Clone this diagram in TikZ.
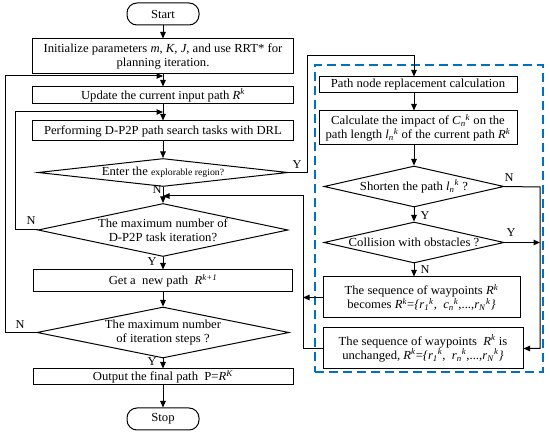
\documentclass[tikz,border=0pt]{standalone}
\usepackage{fontspec}
\setmainfont{Liberation Serif}[FakeStretch=1.03]
\usetikzlibrary{shapes.geometric,arrows.meta,calc}
\newcommand{\Ital}[1]{\textit{#1}}
\newcommand{\Sup}[2]{\textit{#1}\textsuperscript{\textit{#2}}}
\newcommand{\SubSup}[3]{\textit{#1}\textsubscript{\textit{#2}}\textsuperscript{\textit{#3}}}
\definecolor{frameblue}{RGB}{0,112,192}
\begin{document}
\begin{tikzpicture}[x=1pt,y=-1pt,
  font=\fontsize{12.3}{14}\selectfont,
  box/.style={draw, line width=1pt, rectangle, align=center, inner sep=1pt},
  dia/.style={draw, line width=1pt, diamond, inner sep=0pt},
  term/.style={draw, line width=1pt, rectangle, rounded corners=10pt, minimum width=72pt, minimum height=22pt},
  arr/.style={line width=1pt, -{Triangle[length=6.5pt,width=5.5pt]}},
  lin/.style={line width=1pt},
  lab/.style={inner sep=0pt, font=\fontsize{12}{13}\selectfont},
  grp/.style={draw=frameblue, line width=1.5pt, dash pattern=on 9pt off 5pt, rectangle}]
\useasboundingbox (0,0) rectangle (550,433);
% group frame
\node[grp, minimum width=228pt, minimum height=307pt] (frame) at (429,218.5) {};
% left column
\node[term] (start) at (163,14) {Start};
\node[box, minimum width=261pt, minimum height=35pt] (init) at (163,56.5) {Initialize parameters \Ital{m}, \Ital{K}, \Ital{J}, and use RRT* for\\planning iteration.};
\node[box, minimum width=261pt, minimum height=17pt] (upd) at (163,95.5) {Update the current input path \Sup{R}{k}};
\node[box, minimum width=261pt, minimum height=20pt] (perf) at (163,131) {Performing D-P2P path search tasks with DRL};
\node[dia, minimum width=250pt, minimum height=28pt] (ent) at (163,172.5) {};
\node[inner sep=0pt] (entT) at (ent) {Enter the {\fontsize{9.5}{11}\selectfont explorable region?}};
\node[dia, minimum width=250pt, minimum height=53pt] (mx) at (163,230) {};
\node[align=center, inner sep=0pt] (mxT) at (mx) {The maximum number of\\D-P2P task iteration?};
\node[box, minimum width=259pt, minimum height=22pt] (newp) at (163,281) {Get a\ \ new path\ \ \Sup{R}{k+1}};
\node[dia, minimum width=252pt, minimum height=51pt] (it) at (163,332.5) {};
\node[align=center, inner sep=0pt] (itT) at (it) {The maximum number\\of iteration steps ?};
\node[box, minimum width=260pt, minimum height=16pt] (out) at (163,377) {Output the final path\ \ P=\Sup{R}{K}};
\node[term] (stop) at (163,419) {Stop};
% right column
\node[box, minimum width=198pt, minimum height=16pt] (pn) at (418,85) {Path node replacement calculation};
\node[box, minimum width=198pt, minimum height=34pt] (calc) at (418,128) {Calculate the impact of \SubSup{C}{n}{k} on the\\path length \SubSup{l}{n}{k} of the current path \Sup{R}{k}};
\node[dia, minimum width=180pt, minimum height=41pt] (sh) at (414,186.5) {};
\node[inner sep=0pt] (shT) at (sh) {Shorten the path \SubSup{l}{n}{k} ?};
\node[dia, minimum width=180pt, minimum height=41pt] (col) at (414,242.5) {};
\node[inner sep=0pt] (colT) at (col) {Collision with obstacles ?};
\node[box, minimum width=197pt, minimum height=41pt] (seq) at (421.5,297.5) {The sequence of waypoints \Sup{R}{k}\\becomes \Sup{R}{k}=\Ital{\{}\SubSup{r}{1}{k},\ \ \SubSup{c}{n}{k},...,\SubSup{r}{N}{k}\Ital{\}}};
\node[box, minimum width=200pt, minimum height=41pt] (unch) at (423,348.5) {The sequence of waypoints\ \ \Sup{R}{k} is\\unchanged, \Sup{R}{k}=\Ital{\{}\SubSup{r}{1}{k},\ \ \SubSup{r}{n}{k},...,\SubSup{r}{N}{k}\Ital{\}}};
% junction coordinates
\coordinate (j1) at (163,76);
\coordinate (j2) at (163,112);
\coordinate (j3) at (163,196);
\coordinate (rv) at (540,187);
\coordinate (lv) at (303,196);
% left vertical flow
\draw[arr] (start) -- (init);
\draw[arr] (init) -- (upd);
\draw[arr] (upd) -- (perf);
\draw[arr] (perf) -- (ent.north);
\draw[arr] (ent.south) -- (mx.north);
\draw[arr] (mx.south) -- (newp);
\draw[arr] (newp) -- (it.north);
\draw[arr] (it.south) -- (out);
\draw[arr] (out) -- (stop);
% loops
\draw[arr] (it.west) -- (5,332.5) |- (j1);
\draw[arr] (mx.west) -- (15,230) |- (j2);
\draw[arr] (ent.east) -| (307,56) -| (pn.north -| sh.north);
% right flow
\draw[arr] (pn.south -| sh.north) -- (calc.north -| sh.north);
\draw[arr] (calc.south -| sh.north) -- (sh.north);
\draw[arr] (sh.south) -- (col.north);
\draw[arr] (col.south) -- (seq.north -| col.south);
\draw[arr] (sh.east) -- (rv) |- (unch.east);
\draw[arr] (col.east) -- (col.east -| rv);
\draw[arr] (seq.west) -- (seq.west -| lv);
\draw[arr] (unch.west) -| (lv) -- (j3);
% labels
\node[lab] (lN1) at (157,190) {N};
\node[lab] (lY1) at (297,165) {Y};
\node[lab] (lN2) at (31,221) {N};
\node[lab] (lY2) at (152,262) {Y};
\node[lab] (lN3) at (20,325) {N};
\node[lab] (lY3) at (152,362) {Y};
\node[lab] (lN4) at (509,178) {N};
\node[lab] (lY4) at (425,216) {Y};
\node[lab] (lY5) at (511,233) {Y};
\node[lab] (lN5) at (425,270) {N};
\end{tikzpicture}
\end{document}
